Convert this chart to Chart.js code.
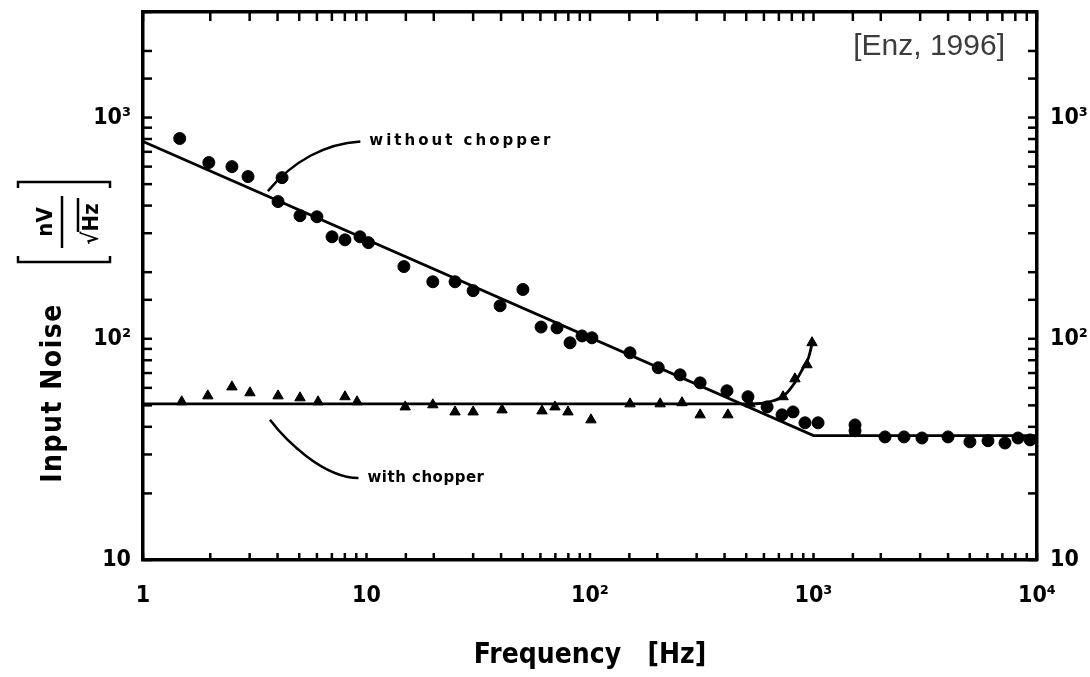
<!DOCTYPE html>
<html>
<head>
<meta charset="utf-8">
<title>Input noise vs frequency</title>
<script src="https://cdn.jsdelivr.net/npm/chart.js@4.4.0/dist/chart.umd.min.js"></script>
<style>
  html, body { margin: 0; padding: 0; background: #fff; }
  #wrap { width: 1090px; height: 677px; }
</style>
</head>
<body>
<div id="wrap"><canvas id="NoiseChart" width="1090" height="677"></canvas></div>
<script>
// measured points without chopper (circles)
var freqNoChopper = [1.46, 1.97, 2.5, 2.95, 4.19, 4.02, 5.04, 6.0, 7.01, 8.01, 9.35, 10.2, 14.7, 19.8, 24.9,
    30.0, 39.6, 50.1, 60.4, 71.2, 81.4, 92.1, 102, 151, 202, 253, 311, 410, 509, 620, 723, 810, 916, 1048,
    1534, 1534, 2089, 2541, 3057, 3998, 5012, 6036, 7191, 8225, 9310];
var noiseNoChopper = [804, 626, 600, 541, 535, 417, 360, 356, 289, 280, 289, 272, 212, 181, 181,
    165, 141, 167, 113, 112, 95.9, 103, 101, 86.4, 74.0, 68.7, 63.2, 58.2, 54.7, 49.2, 45.3, 46.7, 41.7, 41.7,
    40.8, 38.4, 36.0, 36.0, 35.6, 36.0, 34.2, 34.6, 33.8, 35.6, 34.9];

// measured points with chopper (triangles)
var freqChopper = [1.49, 1.95, 2.5, 3.01, 4.02, 5.04, 6.07, 8.01, 9.07, 14.9, 19.8, 24.9, 30.0, 40.4,
    61.0, 69.7, 79.7, 101, 151, 206, 258, 311, 414, 520, 731, 826, 935, 985];
var noiseChopper = [51.9, 55.2, 60.6, 57.0, 55.2, 54.1, 51.9, 54.7, 51.9, 49.2, 50.3, 46.7, 46.7, 47.7,
    47.2, 49.2, 46.7, 43.0, 50.8, 50.8, 51.4, 45.3, 45.3, 50.8, 54.7, 65.9, 76.3, 96];

// hand drawn fit curves
var fitNoChopperFreq = [1, 1000, 10000];
var fitNoChopperNoise = [780, 36.5, 36.5];
var fitChopperFreq = [1, 520, 640, 740, 830, 900, 950, 990];
var fitChopperNoise = [50.8, 50.8, 52, 55.5, 64, 74, 82, 97];

// decade labels
var xTickValues = [1, 10, 100, 1000, 10000];
var xTickLabels = ['1', '10', '10²', '10³', '10⁴'];
var yTickValues = [10, 100, 1000];
var yTickLabels = ['10', '10²', '10³'];

function toPoints(xs, ys) {
    return xs.map(function (x, i) { return { x: x, y: ys[i] }; });
}

function decadeLabel(values, labels) {
    return function (value) {
        for (var i = 0; i < values.length; i++) {
            if (Math.abs(values[i] - value) / values[i] < 1e-6) return labels[i];
        }
        return '';
    };
}

// fixed box sizes so the plot frame lands where the original is
function fixSize(w, h) {
    return function (scale) {
        if (w !== null) scale.width = w;
        if (h !== null) scale.height = h;
        scale.paddingTop = 0;
        scale.paddingBottom = 0;
        scale.paddingLeft = 0;
        scale.paddingRight = 0;
    };
}

var tickFont = { family: "'DejaVu Sans Condensed', 'DejaVu Sans', sans-serif", size: 23, weight: 'bold' };

// annotation anchors in data units
var annotations = [
    { text: 'without chopper', at: [10.3, 780], tip: [3.62, 465], spacing: 3, c1: [-35, 2], c2: [25, -30] },
    { text: 'with chopper', at: [10.1, 23.5], tip: [3.7, 43], spacing: 0.5, c1: [-35, 0], c2: [15, 20] }
];

var decorations = {
    id: 'decorations',
    afterDraw: function (chart) {
        var ctx = chart.ctx, a = chart.chartArea, s = chart.scales;
        ctx.save();
        ctx.strokeStyle = '#000';
        ctx.fillStyle = '#000';
        ctx.lineWidth = 2.5;

        // ticks pointing into the plot
        s.x.ticks.forEach(function (t) {
            var p = s.x.getPixelForValue(t.value);
            ctx.beginPath(); ctx.moveTo(p, a.bottom); ctx.lineTo(p, a.bottom - 7); ctx.stroke();
            ctx.beginPath(); ctx.moveTo(p, a.top); ctx.lineTo(p, a.top + 9); ctx.stroke();
        });
        s.y.ticks.forEach(function (t) {
            var p = s.y.getPixelForValue(t.value);
            ctx.beginPath(); ctx.moveTo(a.left, p); ctx.lineTo(a.left + 9, p); ctx.stroke();
            ctx.beginPath(); ctx.moveTo(a.right, p); ctx.lineTo(a.right - 9, p); ctx.stroke();
        });

        // labelled arrows
        annotations.forEach(function (an) {
            var tx = s.x.getPixelForValue(an.at[0]), ty = s.y.getPixelForValue(an.at[1]);
            var ex = s.x.getPixelForValue(an.tip[0]), ey = s.y.getPixelForValue(an.tip[1]);
            var sx = tx - 9, sy = ty;
            ctx.beginPath();
            ctx.moveTo(sx, sy);
            ctx.bezierCurveTo(sx + an.c1[0], sy + an.c1[1], ex + an.c2[0], ey + an.c2[1], ex, ey);
            ctx.stroke();
            ctx.font = "bold 15px 'DejaVu Sans', sans-serif";
            ctx.letterSpacing = an.spacing + 'px';
            ctx.textAlign = 'left';
            ctx.textBaseline = 'middle';
            ctx.fillText(an.text, tx, ty);
        });
        ctx.letterSpacing = '0px';

        // y axis title with fraction
        ctx.save();
        ctx.translate(61, 393);
        ctx.rotate(-Math.PI / 2);
        ctx.font = "bold 28px 'DejaVu Sans Condensed', 'DejaVu Sans', sans-serif";
        ctx.letterSpacing = '1.5px';
        ctx.textAlign = 'center';
        ctx.textBaseline = 'alphabetic';
        ctx.fillText('Input Noise', 0, 0);
        ctx.letterSpacing = '0px';
        ctx.restore();

        ctx.save();
        ctx.translate(62, 222);
        ctx.rotate(-Math.PI / 2);
        ctx.font = "bold 22px 'DejaVu Sans Condensed', 'DejaVu Sans', sans-serif";
        ctx.textAlign = 'center';
        ctx.textBaseline = 'alphabetic';
        ctx.fillText('nV', 0, -10);
        ctx.fillText('√Hz', -2, 36);
        ctx.lineWidth = 2.5;
        ctx.beginPath(); ctx.moveTo(-26, 0); ctx.lineTo(26, 0); ctx.stroke();
        ctx.beginPath(); ctx.moveTo(-10, 16); ctx.lineTo(24, 16); ctx.stroke();
        // brackets
        ctx.beginPath();
        ctx.moveTo(-34, -44); ctx.lineTo(-40, -44); ctx.lineTo(-40, 48); ctx.lineTo(-34, 48);
        ctx.moveTo(34, -44); ctx.lineTo(40, -44); ctx.lineTo(40, 48); ctx.lineTo(34, 48);
        ctx.stroke();
        ctx.restore();

        // source note
        ctx.font = "30px 'Liberation Sans', Arial, sans-serif";
        ctx.fillStyle = '#3c3c3c';
        ctx.textAlign = 'right';
        ctx.textBaseline = 'alphabetic';
        ctx.fillText('[Enz, 1996]', a.right - 32, a.top + 43);
        ctx.restore();
    }
};

var ctx = document.getElementById('NoiseChart').getContext('2d');
var NoiseChart = new Chart(ctx, {
    type: 'scatter',
    data: {
        datasets: [{
            label: 'fit without chopper',
            data: toPoints(fitNoChopperFreq, fitNoChopperNoise),
            showLine: true,
            borderColor: '#000',
            borderWidth: 2.8,
            pointRadius: 0
        }, {
            label: 'fit with chopper',
            data: toPoints(fitChopperFreq, fitChopperNoise),
            showLine: true,
            borderColor: '#000',
            borderWidth: 2.8,
            pointRadius: 0,
            cubicInterpolationMode: 'monotone'
        }, {
            label: 'without chopper',
            data: toPoints(freqNoChopper, noiseNoChopper),
            pointStyle: 'circle',
            pointRadius: 6,
            backgroundColor: '#000',
            borderColor: '#000',
            borderWidth: 1
        }, {
            label: 'with chopper',
            data: toPoints(freqChopper, noiseChopper),
            pointStyle: 'triangle',
            pointRadius: 6,
            backgroundColor: '#000',
            borderColor: '#000',
            borderWidth: 1
        }]
    },
    options: {
        responsive: false,
        animation: false,
        events: [],
        layout: { padding: 0, autoPadding: false },
        plugins: {
            legend: { display: false },
            tooltip: { enabled: false }
        },
        scales: {
            x: {
                type: 'logarithmic',
                position: 'bottom',
                min: 1,
                max: 10000,
                afterFit: fixSize(null, 117),
                grid: { drawOnChartArea: false, drawTicks: false },
                border: { display: true, color: '#000', width: 3.5 },
                ticks: {
                    autoSkip: false,
                    maxRotation: 0,
                    padding: 22,
                    color: '#000',
                    font: tickFont,
                    callback: decadeLabel(xTickValues, xTickLabels)
                },
                title: {
                    display: true,
                    text: 'Frequency   [Hz]',
                    color: '#000',
                    font: { family: "'DejaVu Sans Condensed', 'DejaVu Sans', sans-serif", size: 28, weight: 'bold' },
                    padding: { top: 0, bottom: 4 }
                }
            },
            x2: {
                type: 'logarithmic',
                position: 'top',
                min: 1,
                max: 10000,
                afterFit: fixSize(null, 12),
                grid: { drawOnChartArea: false, drawTicks: false },
                border: { display: true, color: '#000', width: 3.5 },
                ticks: { display: false }
            },
            y: {
                type: 'logarithmic',
                position: 'left',
                min: 10,
                max: 3000,
                afterFit: fixSize(143, null),
                grid: { drawOnChartArea: false, drawTicks: false },
                border: { display: true, color: '#000', width: 3.5 },
                ticks: {
                    autoSkip: false,
                    padding: 12,
                    color: '#000',
                    font: tickFont,
                    callback: decadeLabel(yTickValues, yTickLabels)
                }
            },
            y2: {
                type: 'logarithmic',
                position: 'right',
                min: 10,
                max: 3000,
                afterFit: fixSize(53, null),
                grid: { drawOnChartArea: false, drawTicks: false },
                border: { display: true, color: '#000', width: 3.5 },
                ticks: {
                    autoSkip: false,
                    padding: 13,
                    color: '#000',
                    font: tickFont,
                    callback: decadeLabel(yTickValues, yTickLabels)
                }
            }
        }
    },
    plugins: [decorations]
});
</script>
</body>
</html>
